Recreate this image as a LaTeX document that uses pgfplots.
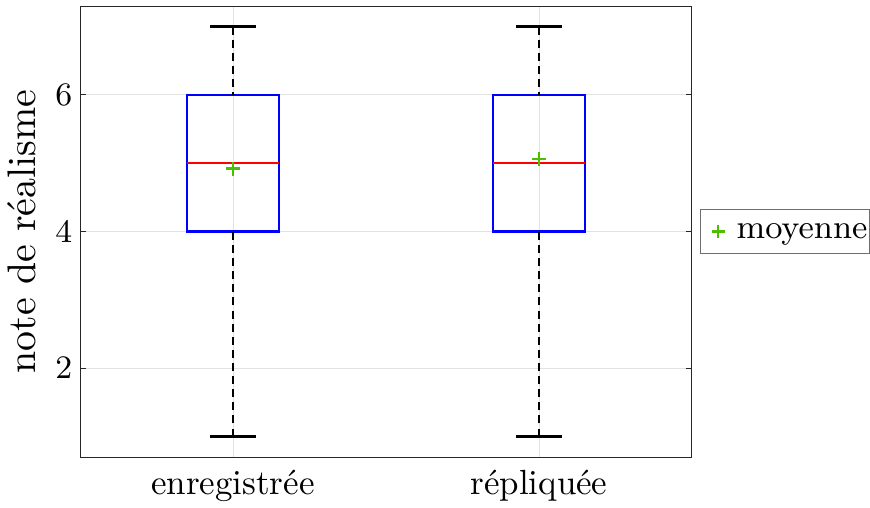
\documentclass[border=0pt]{standalone}
\usepackage{pgfplots}
\pgfplotsset{compat=1.18}
\definecolor{boxblue}{RGB}{0,0,255}
\definecolor{medred}{RGB}{255,0,0}
\definecolor{meangreen}{RGB}{77,191,0}
\definecolor{gridgray}{RGB}{226,226,226}
\definecolor{legframe}{RGB}{110,110,110}
\definecolor{axisgray}{RGB}{38,38,38}
% legend symbol: a single mark with some room after it
\pgfplotsset{meanlegend/.style={legend image code/.code={\path (0pt,0pt) (9.1pt,0pt);
    \draw[##1, mark size=1.75pt] plot coordinates {(4.2pt,0pt)};}}}
\begin{document}
\begin{tikzpicture}
\begin{axis}[
  at={(0,0)}, anchor=south west,
  scale only axis, width=168.1pt, height=123.9pt,
  xmin=0.5, xmax=2.5, ymin=0.7, ymax=7.3,
  xtick={1,2}, xticklabels={enregistrée,répliquée},
  ytick={2,4,6},
  xtick pos=bottom, ytick pos=both,
  xtick style={draw=none},
  ytick style={axisgray, line width=0.27pt},
  major tick length=1.65pt,
  tick align=inside,
  grid=major,
  grid style={draw=gridgray, line width=0.25pt},
  axis line style={axisgray, line width=0.27pt},
  yticklabel style={font=\fontsize{8.6}{10}\selectfont, xshift=1.4pt},
  xticklabel style={font=\fontsize{9.6}{12}\selectfont},
  ylabel={note de réalisme},
  every axis y label/.style={at={(axis description cs:-0.0946,0.5)}, rotate=90, anchor=center, font=\fontsize{10.95}{13}\selectfont},
  legend style={at={(axis description cs:1.0131,0.5)}, anchor=west, draw=legframe, line width=0.3pt,
    font=\fontsize{9.2}{11}\selectfont, inner xsep=0.5pt, inner ysep=0pt,
    nodes={inner sep=0pt, text height=7.9pt, text depth=4.2pt}},
  legend cell align=left,
]
% boxes (quartiles 4 and 6)
\addplot[boxblue, line width=0.65pt, forget plot] coordinates {(0.85,4) (1.15,4) (1.15,6) (0.85,6) (0.85,4)} -- cycle;
\addplot[boxblue, line width=0.65pt, forget plot] coordinates {(1.85,4) (2.15,4) (2.15,6) (1.85,6) (1.85,4)} -- cycle;
% medians
\addplot[medred, line width=0.65pt, forget plot] coordinates {(0.85,5) (1.15,5)};
\addplot[medred, line width=0.65pt, forget plot] coordinates {(1.85,5) (2.15,5)};
% whiskers
\addplot[black, line width=0.6pt, dash pattern=on 2.2pt off 1.4pt, forget plot] coordinates {(1,7) (1,6)};
\addplot[black, line width=0.6pt, dash pattern=on 2.2pt off 1.4pt, forget plot] coordinates {(1,1) (1,4)};
\addplot[black, line width=0.6pt, dash pattern=on 2.2pt off 1.4pt, forget plot] coordinates {(2,7) (2,6)};
\addplot[black, line width=0.6pt, dash pattern=on 2.2pt off 1.4pt, forget plot] coordinates {(2,1) (2,4)};
% whisker caps
\addplot[black, line width=0.6pt, forget plot] coordinates {(0.925,7) (1.075,7)};
\addplot[black, line width=0.6pt, forget plot] coordinates {(0.925,1) (1.075,1)};
\addplot[black, line width=0.6pt, forget plot] coordinates {(1.925,7) (2.075,7)};
\addplot[black, line width=0.6pt, forget plot] coordinates {(1.925,1) (2.075,1)};
% means
\addplot[only marks, mark=+, mark size=1.9pt, meangreen, mark options={line width=0.65pt}, meanlegend]
  coordinates {(1,4.92) (2,5.06)};
\addlegendentry{moyenne}
\end{axis}
\pgfresetboundingbox
\path[use as bounding box] (-21.98pt,-13.74pt) rectangle (217.0pt,125.55pt);
\end{tikzpicture}
\end{document}
